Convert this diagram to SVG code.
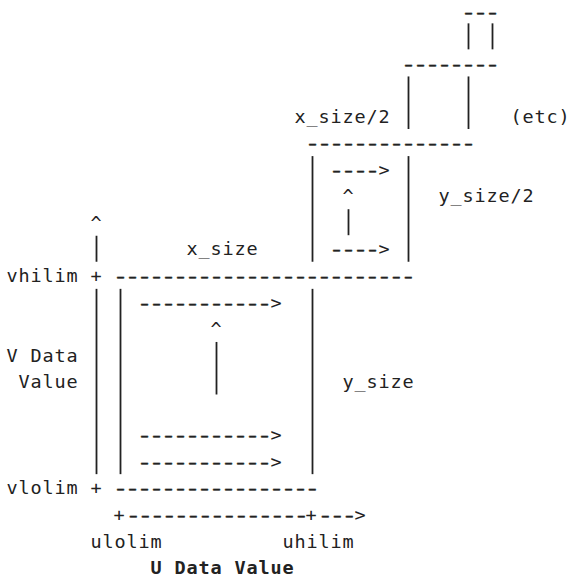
<svg xmlns="http://www.w3.org/2000/svg" width="569" height="579" viewBox="0 0 569 579">
<style>
text{font-family:"DejaVu Sans Mono","Liberation Mono",monospace;font-size:18.5px;letter-spacing:0.862px;fill:#222;white-space:pre}
text.bold{font-weight:bold}
text.dl{letter-spacing:-2.567px;stroke:#222;stroke-width:0.45}
line{stroke:#222;stroke-width:1.8;fill:none}
</style>
<rect width="569" height="579" fill="#fff"/>
<g id="labels">
<text x="294.5" y="122.7">x_size/2</text>
<text x="510.5" y="122.7">(etc)</text>
<text x="438.5" y="202.35">y_size/2</text>
<text x="186.5" y="255.45">x_size</text>
<text x="6.5" y="282">vhilim</text>
<text x="6.5" y="361.65">V Data</text>
<text x="18.5" y="388.2">Value</text>
<text x="342.5" y="388.2">y_size</text>
<text x="6.5" y="494.4">vlolim</text>
<text x="90.5" y="547.5">ulolim</text>
<text x="282.5" y="547.5">uhilim</text>
<text class="bold" x="150.5" y="574.05">U Data Value</text>
</g>
<g id="node-tiny">
<text class="dl" transform="translate(460.7,17.5) scale(1.4,1)">---</text>
<line x1="468.5" y1="23.35" x2="468.5" y2="49.35"/>
<line x1="492.5" y1="23.35" x2="492.5" y2="49.35"/>
</g>
<g id="node-top">
<text class="dl" transform="translate(400.7,69.6) scale(1.4,1)">--------</text>
<line x1="408.5" y1="76.45" x2="408.5" y2="129"/>
<line x1="468.5" y1="76.45" x2="468.5" y2="129"/>
</g>
<g id="node-medium">
<text class="dl" transform="translate(304.7,149.25) scale(1.4,1)">--------------</text>
<text class="dl" transform="translate(328.7,175.8) scale(1.4,1)">----</text>
<text x="378.5" y="175.8">&gt;</text>
<text x="342.5" y="202.35">^</text>
<text class="dl" transform="translate(328.7,255.45) scale(1.4,1)">----</text>
<text x="378.5" y="255.45">&gt;</text>
<line x1="312.5" y1="156.1" x2="312.5" y2="261.75"/>
<line x1="408.5" y1="156.1" x2="408.5" y2="261.75"/>
<line x1="348.5" y1="209.2" x2="348.5" y2="235.2"/>
</g>
<g id="node-large">
<text class="dl" transform="translate(112.7,282) scale(1.4,1)">-------------------------</text>
<text class="dl" transform="translate(136.7,308.55) scale(1.4,1)">-----------</text>
<text x="270.5" y="308.55">&gt;</text>
<text x="210.5" y="335.1">^</text>
<text class="dl" transform="translate(136.7,441.3) scale(1.4,1)">-----------</text>
<text x="270.5" y="441.3">&gt;</text>
<text class="dl" transform="translate(136.7,467.85) scale(1.4,1)">-----------</text>
<text x="270.5" y="467.85">&gt;</text>
<text class="dl" transform="translate(112.7,494.4) scale(1.4,1)">-----------------</text>
<line x1="120.5" y1="288.85" x2="120.5" y2="474.15"/>
<line x1="312.5" y1="288.85" x2="312.5" y2="474.15"/>
<line x1="216.5" y1="341.95" x2="216.5" y2="394.5"/>
</g>
<g id="connectors">
<g id="v-axis">
<text x="90.5" y="228.9">^</text>
<text x="90.5" y="282">+</text>
<text x="90.5" y="494.4">+</text>
<line x1="96.5" y1="235.75" x2="96.5" y2="261.75"/>
<line x1="96.5" y1="288.85" x2="96.5" y2="474.15"/>
</g>
<g id="u-axis">
<text x="113.6" y="520.95">+</text>
<text class="dl" transform="translate(125.6,520.95) scale(1.4,1)">---------------</text>
<text x="305.6" y="520.95">+</text>
<text class="dl" transform="translate(317.6,520.95) scale(1.4,1)">---</text>
<text x="354.5" y="520.95">&gt;</text>
</g>
</g>
</svg>
